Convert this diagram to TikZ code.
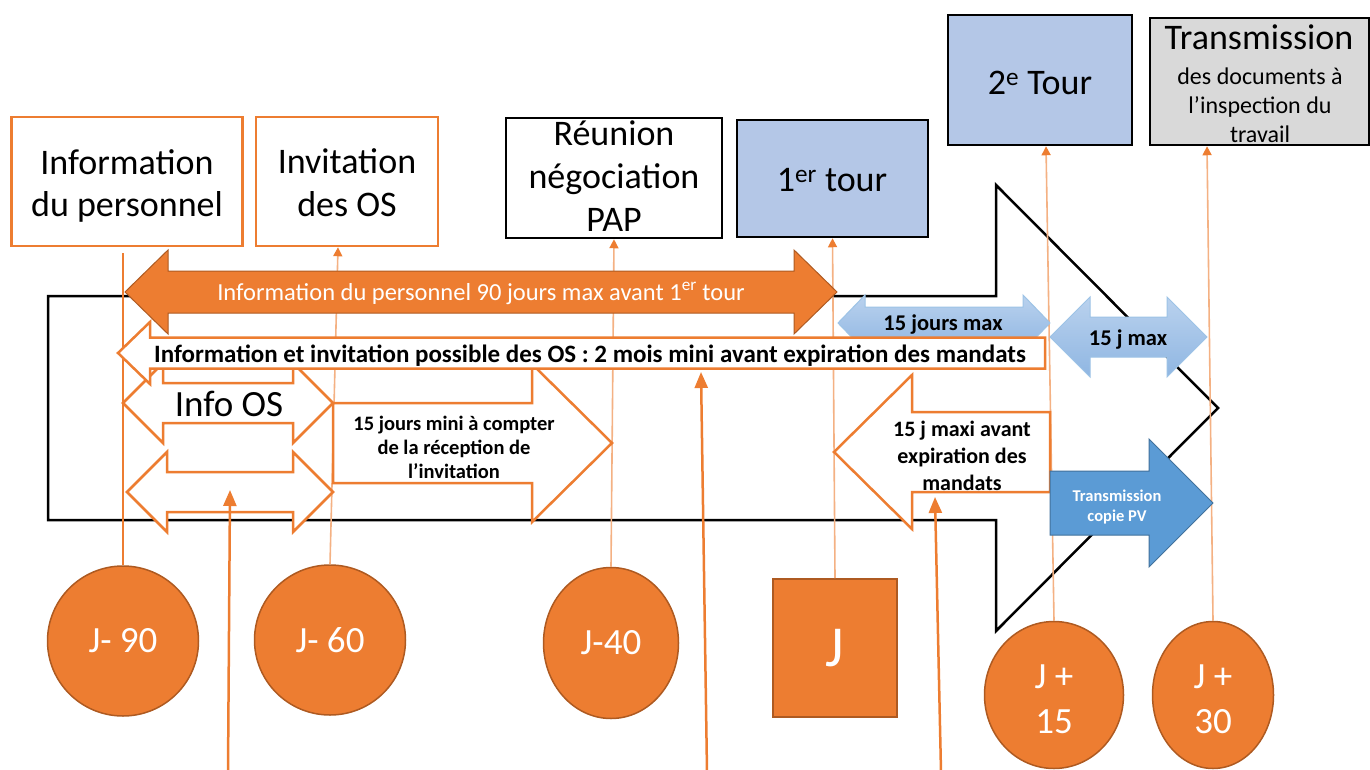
\documentclass[tikz,border=0pt]{standalone}
\usepackage{fontspec}
\setmainfont{Carlito}
\usetikzlibrary{shapes.geometric,arrows.meta,calc}
\definecolor{org}{HTML}{ED7D31}
\definecolor{orgdk}{HTML}{AE5A21}
\definecolor{orglt}{HTML}{F4B183}
\definecolor{bluebox}{HTML}{B4C7E7}
\definecolor{graybox}{HTML}{D9D9D9}
\definecolor{bluelt}{HTML}{9DC3E6}
\definecolor{bluetop}{HTML}{BAD2EE}
\definecolor{bluebot}{HTML}{8FB6E2}
\definecolor{bluemid}{HTML}{5B9BD5}
\definecolor{bluedk}{HTML}{41719C}
\newcommand{\fs}[2]{\fontsize{#1}{#2}\selectfont}
% double arrow: style, xl, xr, c, H, B, L
\newcommand{\dblarr}[7]{\path[#1] (#2,#4) -- ({#2+#7},{#4-#5}) -- ({#2+#7},{#4-#6}) -- ({#3-#7},{#4-#6}) -- ({#3-#7},{#4-#5}) -- (#3,#4) -- ({#3-#7},{#4+#5}) -- ({#3-#7},{#4+#6}) -- ({#2+#7},{#4+#6}) -- ({#2+#7},{#4+#5}) -- cycle;}
% right arrow: style, xbodyleft, xtip, c, H, B, L
\newcommand{\rarr}[7]{\path[#1] (#2,{#4-#6}) -- ({#3-#7},{#4-#6}) -- ({#3-#7},{#4-#5}) -- (#3,#4) -- ({#3-#7},{#4+#5}) -- ({#3-#7},{#4+#6}) -- (#2,{#4+#6}) -- cycle;}
% left arrow: style, xtip, xbodyright, c, H, B, L
\newcommand{\larr}[7]{\path[#1] (#2,#4) -- ({#2+#7},{#4-#5}) -- ({#2+#7},{#4-#6}) -- (#3,{#4-#6}) -- (#3,{#4+#6}) -- ({#2+#7},{#4+#6}) -- ({#2+#7},{#4+#5}) -- cycle;}
\begin{document}
\begin{tikzpicture}[x=1pt,y=-1pt,
  box/.style={draw, line width=2.5pt, inner sep=0pt},
  obox/.style={box, draw=org, fill=white},
  kbox/.style={box, draw=black},
  lbl/.style={inner sep=0pt, align=center, text=black},
  disc/.style={ellipse, fill=org, draw=orgdk, line width=1.5pt, text=white, inner sep=0pt, align=center, font=\fs{37}{45}},
  disctext/.style={inner sep=0pt, align=center, text=white, font=\fs{37}{45}},
  link/.style={draw=orglt, line width=1.6pt, -{Triangle[length=9pt,width=9pt,color=org]}},
  plainlink/.style={draw=org, line width=2pt},
  pointer/.style={draw=org, line width=2.5pt, -{Triangle[length=16pt,width=13pt]}},
  whitearr/.style={fill=white, draw=org, line width=2.5pt},
  bluearr/.style={top color=bluetop, bottom color=bluebot, draw=bluelt, line width=1pt},
  bigarr/.style={draw=black, line width=2.5pt, fill=white}
]
\useasboundingbox (0,0) rectangle (1370,770);

% big background arrow
\path[bigarr] (48,296) -- (996,296) -- (996,185) -- (1218,408) -- (996,631) -- (996,520) -- (48,520) -- cycle;

% top boxes
\node[obox, minimum width=231, minimum height=129] (info) at (127,181.5) {};
\node[obox, minimum width=182, minimum height=129] (invit) at (347,181.5) {};
\node[kbox, fill=white, minimum width=216, minimum height=120] (reun) at (614,178) {};
\node[kbox, fill=bluebox, minimum width=191, minimum height=117] (tour1) at (832.5,178.5) {};
\node[kbox, fill=bluebox, minimum width=184, minimum height=130] (tour2) at (1040,80) {};
\node[kbox, fill=graybox, minimum width=219, minimum height=127] (transm) at (1259.5,81.5) {};

\node[lbl, font=\fs{36}{42}] (infoT) at (127,186) {Information\\du personnel};
\node[lbl, font=\fs{36}{43}] (invitT) at (347,183) {Invitation\\des OS};
\node[lbl, font=\fs{36}{43}] (reunT) at (614,176) {Réunion\\négociation\\PAP};
\node[lbl, font=\fs{36}{40}, anchor=base] (tour1T) at (832,192) {1\textsuperscript{er} tour};
\node[lbl, font=\fs{36}{40}, anchor=base] (tour2T) at (1040,95) {2\textsuperscript{e} Tour};
\node[lbl, font=\fs{36}{40}, anchor=base] (transmT) at (1259,50) {Transmission};
\node[lbl, font=\fs{24}{29}] (transmS) at (1260,105) {des documents à\\l’inspection du\\travail};

% bottom markers
\node[disc, minimum width=151, minimum height=150] (j90) at (123,641) {J- 90};
\node[disc, minimum width=151, minimum height=150] (j60) at (330,640) {J- 60};
\node[disc, minimum width=135, minimum height=151] (j40) at (611,643) {J-40};
\node[fill=org, draw=orgdk, line width=2pt, minimum width=124, minimum height=138, text=white, font=\fs{58}{60}] (jsq) at (835,648) {J};
\node[disc, minimum width=139, minimum height=147] (j15) at (1054,695) {};
\node[disc, minimum width=121, minimum height=147] (j30) at (1213,695) {};
\node[disctext] (j15T) at (1054,699) {J +\\15};
\node[disctext] (j30T) at (1213,699) {J +\\30};

% thin connectors
\draw[plainlink, shorten >=6pt] (j90.north) -- (j90.north |- info.south);
\draw[link] (j60.north) -- ($(invit.south)+(-9,0)$);
\draw[link] (j40.north) -- (reun.south);
\draw[link] (jsq.north) -- (tour1.south);
\draw[link] (j15.north) -- ($(tour2.south)+(6,0)$);
\draw[link] (j30.north) -- ($(transm.south)+(-52.5,0)$);

% orange filled double arrow
\dblarr{fill=org, draw=orgdk, line width=1pt}{125}{837}{292}{42}{21}{43}
\node[lbl, text=white, font=\fs{24.5}{26}, anchor=base] (persT) at (481,300) {Information du personnel 90 jours max avant 1\textsuperscript{er} tour};

% blue 15 jours max (behind invitation arrow)
\dblarr{bluearr}{838}{1050}{323}{28}{16}{27}
\node[lbl, font=\bfseries\fs{22.5}{24}, anchor=base] (q15T) at (943,330) {15 jours max};

% Info OS and blank double arrows
\dblarr{whitearr}{123}{333}{403}{40}{20}{40}
\node[lbl, font=\fs{37}{40}, anchor=base] (osT) at (229,416) {Info OS};
\dblarr{whitearr}{127}{333}{492}{40}{20}{40}

% 15 jours mini arrow
\rarr{whitearr}{333}{612}{443}{79}{40}{80}
\node[lbl, font=\bfseries\fs{20.5}{24}] (miniT) at (454,447) {15 jours mini à compter\\de la réception de\\l’invitation};

% invitation left arrow
\larr{whitearr}{118}{1045}{353}{31}{15.5}{32}
\node[lbl, font=\bfseries\fs{25}{26}, anchor=base] (invT) at (590,362) {Information et invitation possible des OS : 2 mois mini avant expiration des mandats};

% 15 j max blue
\dblarr{bluearr}{1050}{1207}{337}{40}{20}{40}
\node[lbl, font=\bfseries\fs{22.5}{24}, anchor=base] (jmaxT) at (1128,345) {15 j max};

% 15 j maxi avant expiration
\larr{whitearr}{834}{1050}{452}{77}{40}{78}
\node[lbl, font=\bfseries\fs{22}{27}] (maxiT) at (962,456) {15 j maxi avant\\expiration des\\mandats};

% Transmission copie PV
\rarr{fill=bluemid, draw=bluedk, line width=1pt}{1050}{1213}{503}{64}{32}{64}
\node[lbl, text=white, font=\bfseries\fs{16.5}{20}] (pvT) at (1117,507) {Transmission\\copie PV};

% pointers from bottom
\coordinate (p1s) at (228,772);
\coordinate (p1e) at (230,490);
\coordinate (p2s) at (707,772);
\coordinate (p2e) at (701,372);
\coordinate (p3s) at (941,772);
\coordinate (p3e) at (935,497);
\draw[pointer] (p1s) -- (p1e);
\draw[pointer] (p2s) -- (p2e);
\draw[pointer] (p3s) -- (p3e);
\end{tikzpicture}
\end{document}
